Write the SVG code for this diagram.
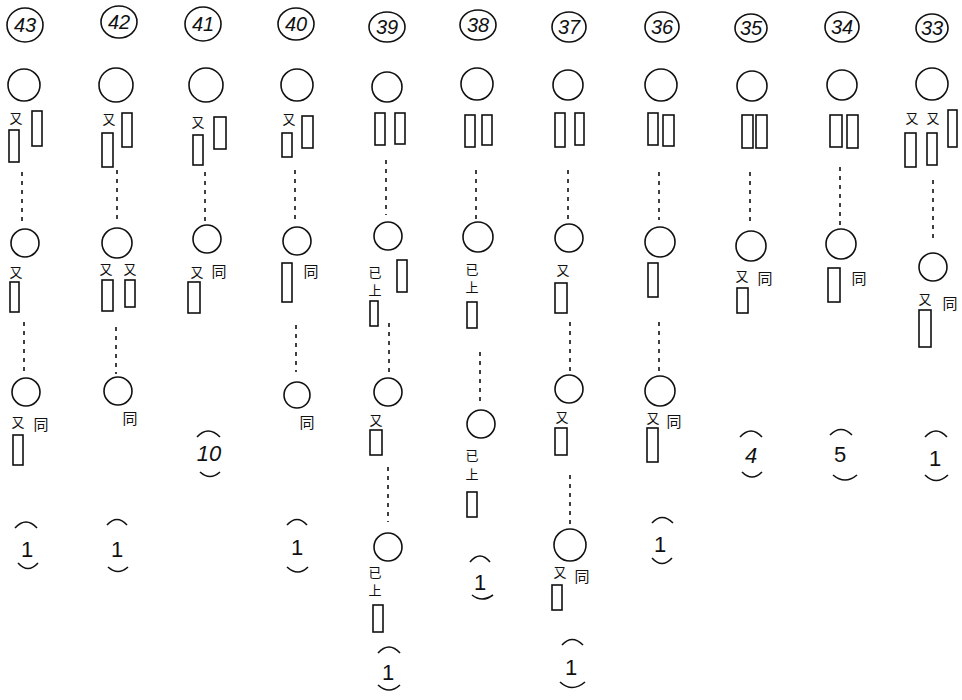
<svg xmlns="http://www.w3.org/2000/svg" width="962" height="700" viewBox="0 0 962 700">
<style>
.c,.r,.e,.b{fill:none;stroke:#111;stroke-width:1.6}
.d{stroke:#111;stroke-width:1.6;stroke-dasharray:4 5;fill:none}
.k{font-family:"Noto Sans CJK JP","Noto Sans CJK SC",sans-serif;font-size:13px;fill:#111;text-anchor:middle}
.g{font-family:"Noto Sans CJK JP","Noto Sans CJK SC",sans-serif;font-size:15px;fill:#111;text-anchor:middle}
.h{font-family:"Liberation Sans",sans-serif;font-size:20px;font-style:italic;fill:#111;text-anchor:middle}
.n{font-family:"Liberation Sans",sans-serif;font-size:22px;fill:#111;text-anchor:middle}
</style>
<rect width="962" height="700" fill="#fff"/>
<g id="connectors">
<line class="d" x1="22" y1="172" x2="22" y2="224"/>
<line class="d" x1="24" y1="322" x2="24" y2="374"/>
<line class="d" x1="117" y1="170" x2="117" y2="224"/>
<line class="d" x1="116" y1="327" x2="116" y2="374"/>
<line class="d" x1="205" y1="172" x2="205" y2="222"/>
<line class="d" x1="295" y1="170" x2="295" y2="224"/>
<line class="d" x1="296" y1="325" x2="296" y2="372"/>
<line class="d" x1="386" y1="160" x2="386" y2="215"/>
<line class="d" x1="389" y1="323" x2="389" y2="374"/>
<line class="d" x1="388" y1="467" x2="388" y2="522"/>
<line class="d" x1="476" y1="170" x2="476" y2="220"/>
<line class="d" x1="480" y1="352" x2="480" y2="405"/>
<line class="d" x1="568" y1="170" x2="568" y2="219"/>
<line class="d" x1="570" y1="322" x2="570" y2="372"/>
<line class="d" x1="570" y1="475" x2="570" y2="525"/>
<line class="d" x1="659" y1="172" x2="659" y2="220"/>
<line class="d" x1="659" y1="322" x2="659" y2="372"/>
<line class="d" x1="750" y1="172" x2="750" y2="224"/>
<line class="d" x1="840" y1="167" x2="840" y2="225"/>
<line class="d" x1="933" y1="180" x2="933" y2="239"/>
</g>

<g id="col43">
<g id="h43"><ellipse class="e" cx="25" cy="25" rx="18" ry="17"/><text class="h" x="25" y="32">43</text></g>
<g id="n43a"><circle class="c" cx="24" cy="85" r="16"/><text class="k" x="16" y="123">又</text><rect class="r" x="32" y="111" width="10" height="35"/><rect class="r" x="9" y="130" width="10" height="32"/></g>
<g id="n43b"><circle class="c" cx="25" cy="243" r="14"/><text class="k" x="16" y="277">又</text><rect class="r" x="10" y="282" width="9" height="30"/></g>
<g id="n43c"><circle class="c" cx="26" cy="392" r="14"/><text class="k" x="18" y="427">又</text><text class="g" x="41" y="430">同</text><rect class="r" x="13" y="435" width="10" height="30"/></g>
<g id="q43"><path class="b" d="M15,528 Q26,516 37,528"/><text class="n" x="27" y="557">1</text><path class="b" d="M18,563 Q28,574 38,563"/></g>
</g>

<g id="col42">
<g id="h42"><ellipse class="e" cx="119" cy="22" rx="18" ry="16"/><text class="h" x="119" y="29">42</text></g>
<g id="n42a"><circle class="c" cx="116" cy="85" r="17"/><text class="k" x="109" y="124">又</text><rect class="r" x="122" y="113" width="10" height="34"/><rect class="r" x="102" y="133" width="11" height="34"/></g>
<g id="n42b"><circle class="c" cx="117" cy="243" r="15"/><text class="k" x="106" y="274">又</text><text class="k" x="130" y="274">又</text><rect class="r" x="102" y="280" width="11" height="31"/><rect class="r" x="125" y="280" width="10" height="27"/></g>
<g id="n42c"><circle class="c" cx="118" cy="391" r="14"/><text class="g" x="130" y="424">同</text></g>
<g id="q42"><path class="b" d="M107,525 Q117,514 127,525"/><text class="n" x="117" y="557">1</text><path class="b" d="M108,567 Q118,576 128,567"/></g>
</g>

<g id="col41">
<g id="h41"><ellipse class="e" cx="203" cy="24" rx="18" ry="17"/><text class="h" x="203" y="31">41</text></g>
<g id="n41a"><circle class="c" cx="206" cy="85" r="17"/><text class="k" x="198" y="127">又</text><rect class="r" x="214" y="117" width="12" height="32"/><rect class="r" x="193" y="135" width="10" height="30"/></g>
<g id="n41b"><circle class="c" cx="207" cy="239" r="14"/><text class="k" x="197" y="277">又</text><text class="g" x="219" y="277">同</text><rect class="r" x="188" y="282" width="12" height="31"/></g>
<g id="q41"><path class="b" d="M197,437 Q208,425 220,437"/><text class="n" x="209" y="461" font-style="italic">10</text><path class="b" d="M200,472 Q210,481 220,472"/></g>
</g>

<g id="col40">
<g id="h40"><ellipse class="e" cx="296" cy="24" rx="18" ry="16"/><text class="h" x="296" y="31">40</text></g>
<g id="n40a"><circle class="c" cx="297" cy="85" r="16"/><text class="k" x="289" y="124">又</text><rect class="r" x="302" y="116" width="11" height="32"/><rect class="r" x="282" y="133" width="10" height="24"/></g>
<g id="n40b"><circle class="c" cx="297" cy="241" r="14"/><rect class="r" x="282" y="263" width="10" height="39"/><text class="g" x="311" y="277">同</text></g>
<g id="n40c"><circle class="c" cx="297" cy="395" r="13"/><text class="g" x="307" y="428">同</text></g>
<g id="q40"><path class="b" d="M287,525 Q297,514 307,525"/><text class="n" x="297" y="555">1</text><path class="b" d="M287,567 Q298,577 308,567"/></g>
</g>

<g id="col39">
<g id="h39"><ellipse class="e" cx="387" cy="27" rx="18" ry="15"/><text class="h" x="387" y="34">39</text></g>
<g id="n39a"><circle class="c" cx="387" cy="87" r="15"/><rect class="r" x="375" y="113" width="10" height="32"/><rect class="r" x="395" y="113" width="10" height="31"/></g>
<g id="n39b"><circle class="c" cx="388" cy="236" r="14"/><text class="k" x="375" y="277">已</text><text class="k" x="375" y="295">上</text><rect class="r" x="397" y="260" width="10" height="32"/><rect class="r" x="370" y="301" width="8" height="25"/></g>
<g id="n39c"><circle class="c" cx="388" cy="392" r="14"/><text class="k" x="376" y="425">又</text><rect class="r" x="370" y="430" width="12" height="25"/></g>
<g id="n39d"><circle class="c" cx="388" cy="547" r="14"/><text class="k" x="375" y="577">已</text><text class="k" x="375" y="595">上</text><rect class="r" x="373" y="605" width="10" height="27"/></g>
<g id="q39"><path class="b" d="M378,653 Q389,641 400,653"/><text class="n" x="388" y="680">1</text><path class="b" d="M378,685 Q389,695 400,685"/></g>
</g>

<g id="col38">
<g id="h38"><ellipse class="e" cx="478" cy="25" rx="18" ry="15"/><text class="h" x="478" y="32">38</text></g>
<g id="n38a"><circle class="c" cx="477" cy="84" r="16"/><rect class="r" x="465" y="115" width="10" height="32"/><rect class="r" x="482" y="115" width="10" height="30"/></g>
<g id="n38b"><circle class="c" cx="478" cy="237" r="15"/><text class="k" x="472" y="274">已</text><text class="k" x="472" y="292">上</text><rect class="r" x="467" y="302" width="10" height="26"/></g>
<g id="n38c"><circle class="c" cx="481" cy="424" r="14"/><text class="k" x="472" y="460">已</text><text class="k" x="472" y="479">上</text><rect class="r" x="467" y="492" width="10" height="25"/></g>
<g id="q38"><path class="b" d="M470,562 Q480,550 490,562"/><text class="n" x="480" y="590">1</text><path class="b" d="M472,595 Q482,603 493,595"/></g>
</g>

<g id="col37">
<g id="h37"><ellipse class="e" cx="569" cy="27" rx="17" ry="15"/><text class="h" x="569" y="34">37</text></g>
<g id="n37a"><circle class="c" cx="568" cy="85" r="15"/><rect class="r" x="555" y="113" width="10" height="34"/><rect class="r" x="575" y="113" width="9" height="32"/></g>
<g id="n37b"><circle class="c" cx="569" cy="238" r="14"/><text class="k" x="563" y="275">又</text><rect class="r" x="555" y="283" width="12" height="30"/></g>
<g id="n37c"><circle class="c" cx="569" cy="389" r="14"/><text class="k" x="562" y="422">又</text><rect class="r" x="555" y="428" width="12" height="27"/></g>
<g id="n37d"><circle class="c" cx="570" cy="545" r="16"/><text class="k" x="560" y="577">又</text><text class="g" x="582" y="582">同</text><rect class="r" x="552" y="585" width="10" height="25"/></g>
<g id="q37"><path class="b" d="M562,645 Q572,634 583,645"/><text class="n" x="571" y="675">1</text><path class="b" d="M560,682 Q572,693 585,682"/></g>
</g>

<g id="col36">
<g id="h36"><ellipse class="e" cx="662" cy="27" rx="17" ry="15"/><text class="h" x="662" y="34">36</text></g>
<g id="n36a"><circle class="c" cx="661" cy="85" r="16"/><rect class="r" x="648" y="113" width="10" height="32"/><rect class="r" x="663" y="115" width="11" height="31"/></g>
<g id="n36b"><circle class="c" cx="660" cy="242" r="15"/><rect class="r" x="648" y="263" width="10" height="34"/></g>
<g id="n36c"><circle class="c" cx="660" cy="391" r="15"/><text class="k" x="653" y="423">又</text><text class="g" x="674" y="427">同</text><rect class="r" x="647" y="428" width="11" height="34"/></g>
<g id="q36"><path class="b" d="M652,523 Q662,512 673,523"/><text class="n" x="660" y="552">1</text><path class="b" d="M652,558 Q662,569 672,558"/></g>
</g>

<g id="col35">
<g id="h35"><ellipse class="e" cx="751" cy="28" rx="16" ry="14"/><text class="h" x="751" y="35">35</text></g>
<g id="n35a"><circle class="c" cx="752" cy="86" r="15"/><rect class="r" x="742" y="115" width="11" height="33"/><rect class="r" x="756" y="115" width="11" height="33"/></g>
<g id="n35b"><circle class="c" cx="751" cy="246" r="15"/><text class="k" x="742" y="281">又</text><text class="g" x="765" y="284">同</text><rect class="r" x="737" y="288" width="11" height="25"/></g>
<g id="q35"><path class="b" d="M740,437 Q751,425 762,437"/><text class="n" x="751" y="463" font-style="italic">4</text><path class="b" d="M742,472 Q752,482 762,472"/></g>
</g>

<g id="col34">
<g id="h34"><ellipse class="e" cx="842" cy="27" rx="17" ry="15"/><text class="h" x="842" y="34">34</text></g>
<g id="n34a"><circle class="c" cx="842" cy="85" r="15"/><rect class="r" x="830" y="115" width="12" height="32"/><rect class="r" x="847" y="115" width="11" height="33"/></g>
<g id="n34b"><circle class="c" cx="841" cy="244" r="15"/><rect class="r" x="828" y="268" width="12" height="34"/><text class="g" x="859" y="284">同</text></g>
<g id="q34"><path class="b" d="M830,435 Q841,424 852,435"/><text class="n" x="840" y="462">5</text><path class="b" d="M833,475 Q845,485 857,475"/></g>
</g>

<g id="col33">
<g id="h33"><ellipse class="e" cx="932" cy="28" rx="16" ry="14"/><text class="h" x="932" y="35">33</text></g>
<g id="n33a"><circle class="c" cx="932" cy="84" r="16"/><text class="k" x="912" y="123">又</text><text class="k" x="933" y="123">又</text><rect class="r" x="948" y="110" width="9" height="37"/><rect class="r" x="905" y="133" width="11" height="34"/><rect class="r" x="927" y="133" width="10" height="32"/></g>
<g id="n33b"><circle class="c" cx="933" cy="267" r="14"/><text class="k" x="925" y="304">又</text><text class="g" x="950" y="309">同</text><rect class="r" x="919" y="310" width="12" height="37"/></g>
<g id="q33"><path class="b" d="M925,437 Q936,425 947,437"/><text class="n" x="935" y="466">1</text><path class="b" d="M925,475 Q936,486 948,475"/></g>
</g>
</svg>
